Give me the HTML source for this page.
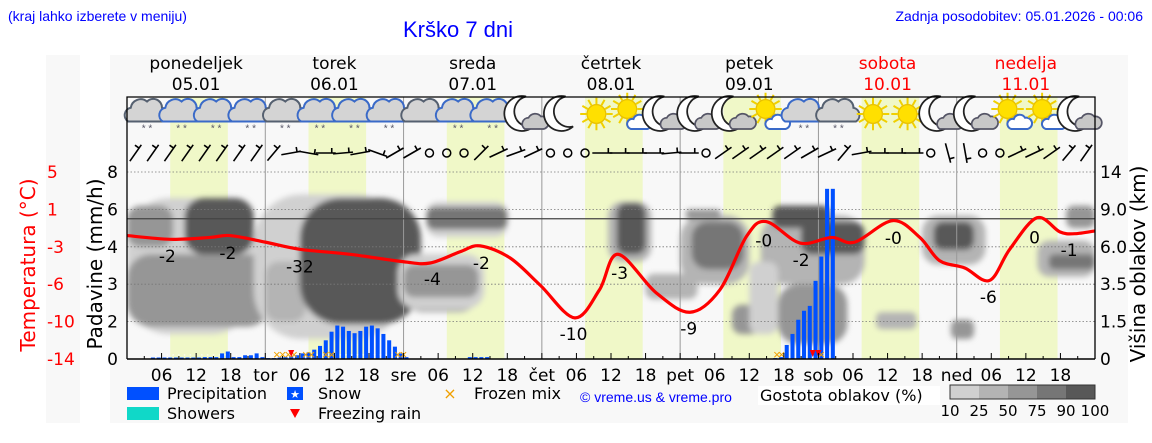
<!DOCTYPE html>
<html><head><meta charset="utf-8">
<style>
html,body{margin:0;padding:0;background:#fff;}
svg{display:block;font-family:"Liberation Sans","DejaVu Sans",sans-serif;}
.dv{font-family:"DejaVu Sans","Liberation Sans",sans-serif;}
</style></head>
<body>
<svg id="chart" width="1152" height="443" viewBox="0 0 1152 443" xmlns="http://www.w3.org/2000/svg">
<defs>
<filter id="blur" x="-20%" y="-20%" width="140%" height="140%"><feGaussianBlur stdDeviation="3"/></filter>
<clipPath id="plotclip"><rect x="127" y="172" width="968" height="187"/></clipPath>
</defs>
<text x="8" y="21" font-size="14" fill="#0000ff">(kraj lahko izberete v meniju)</text>
<text x="458" y="37" font-size="22" fill="#0000ff" text-anchor="middle">Krško 7 dni</text>
<text x="1143" y="21" font-size="14" fill="#0000ff" text-anchor="end">Zadnja posodobitev: 05.01.2026 - 00:06</text>
<rect x="46" y="55" width="34" height="368" fill="#f8f8f8"/>
<rect x="110" y="55" width="1018" height="368" fill="#f8f8f8"/>
<g id="days"></g>
<g id="bands"></g>
<g id="clouds" clip-path="url(#plotclip)" filter="url(#blur)"></g>
<g id="grid"></g>
<g id="icons"></g>
<g id="wind"></g>
<g id="precip"></g>
<g id="marks"></g>
<g id="temp"></g>
<g id="axes"></g>
<text class="dv" transform="translate(35,265) rotate(-90)" font-size="20" fill="#ff0000" text-anchor="middle">Temperatura (°C)</text>
<text class="dv" transform="translate(102,264) rotate(-90)" font-size="20" fill="#000" text-anchor="middle">Padavine (mm/h)</text>
<text class="dv" transform="translate(1145,264) rotate(-90)" font-size="20" fill="#000" text-anchor="middle">Višina oblakov (km)</text>
<g class="dv" font-size="16">
<rect x="127" y="387" width="32" height="13" fill="#0050ff"/>
<text x="167" y="399">Precipitation</text>
<rect x="127" y="407" width="32" height="13" fill="#10d8c8"/>
<text x="167" y="419">Showers</text>
<rect x="287" y="387" width="16" height="13" fill="#0050ff"/>
<text x="295" y="398" font-size="11" fill="#fff" text-anchor="middle">★</text>
<text x="318" y="399">Snow</text>
<path d="M290,409 L300,409 L295,418 Z" fill="#ff0000"/>
<text x="318" y="419">Freezing rain</text>
<text x="450" y="399" fill="#f0a000" font-size="16" text-anchor="middle">×</text>
<text x="474" y="399">Frozen mix</text>
</g>
<text x="580" y="402" font-size="14" fill="#0000ff">© vreme.us &amp; vreme.pro</text>
<rect x="758" y="386" width="182" height="19" fill="#fff"/>
<text class="dv" x="760" y="401" font-size="16">Gostota oblakov (%)</text>
<g id="colorbar"></g>
</svg>
<script>
const NS='http://www.w3.org/2000/svg';
// ---- data ----
const dayNames=['ponedeljek','torek','sreda','četrtek','petek','sobota','nedelja'];
const dayDates=['05.01','06.01','07.01','08.01','09.01','10.01','11.01'];
const dayAbbr=['pon','tor','sre','čet','pet','sob','ned'];
const precipTicks=[0,2,3,4,6,8];
const heightTicks=['0','1.5','3.5','6.0','9.0','14'];
const heightVals=[0,1.5,3.5,6,9,14];
const tempTicks=[5,1,-3,-6,-10,-14];
const tempHours=[0,7.5,14.4,17.9,24,30,38.7,48,52.6,57.8,61.3,66.5,71.7,77.7,82,85.2,91.8,97.7,102.9,107.5,110.9,116.8,122.3,126.3,132.9,137.6,141,145.4,149.7,153.2,157.9,161.9,164.5,168];
const tempVals=[-1.8,-2.2,-2.0,-1.8,-2.5,-3.2,-3.6,-4.2,-4.3,-3.4,-2.9,-3.9,-6.1,-9.6,-6.6,-3.6,-6.9,-9.0,-6.6,-1.9,-0.3,-2.6,-2.0,-2.5,-0.2,-2.0,-4.1,-4.7,-5.7,-3.2,0.1,-1.4,-1.6,-1.3];
const labelHours=[7,17.5,30,53,61.5,77.5,85.5,97.5,110.5,117,133,149.5,157.5,163.5];
const labelTexts=['-2','-2','-32','-4','-2','-10','-3','-9','-0','-2','-0','-6','0','-1'];
const precipHours=[4.5,5.5,6.5,7.5,8.5,9.5,10.5,11.5,12.5,13.5,14.5,15.5,16.5,17.5,18.5,19.5,20.5,21.5,22.5,23.5,24.5,25.5,26.5,27.5,28.5,29.5,30.5,31.5,32.5,33.5,34.5,35.5,36.5,37.5,38.5,39.5,40.5,41.5,42.5,43.5,44.5,45.5,46.5,47.5,48.5,59.5,60.5,61.5,62.5,112.5,113.5,114.5,115.5,116.5,117.5,118.5,119.5,120.5,121.5,122.5];
const precipVals=[0.08,0.08,0.08,0.08,0.08,0.08,0.08,0.08,0.08,0.1,0.1,0.1,0.3,0.4,0.1,0.1,0.2,0.2,0.3,0.1,0.05,0.05,0.08,0.1,0.15,0.2,0.3,0.35,0.5,0.7,1.0,1.46,1.79,1.73,1.5,1.38,1.5,1.73,1.79,1.64,1.34,1.0,0.66,0.3,0.1,0.1,0.1,0.1,0.1,0.05,0.1,0.75,1.34,2.05,2.29,2.42,3.09,3.74,7.1,7.1];
// cloud blobs: hour start, hour end, km top, km bottom, density level
const cloudH0=[0,0,0,10,20,22,24,30,48,52,52,47,48,83.5,85,90,96,98,97,105,110,108,113,112,117,130,138,140,143,158,160,163];
const cloudH1=[22,25,8,22,24,48,31,51,61,66,66,62,61,91,90,99,108,107,103,110,128,113,125,122,128,137,149,147,147,168,168,168];
const cloudTop=[10.5,5.5,9.5,10.5,5,11,5,10.5,5.5,10,9.3,5.5,4.8,10,9.8,4.2,8.5,8,9,2.4,8.5,5,3.5,9.5,8,2,8.5,8,1.6,6.5,5.5,9.5];
const cloudBot=[1.0,1.3,6,5.5,1.5,0.8,1.5,1.4,2,6.8,7.4,2.2,2.8,5,5.5,2.7,3.5,4.5,8.2,1.0,3.5,1,0.6,7.5,5.5,1.2,4.8,5.8,0.8,4,4.5,7.5];
const cloudLvl=[0,2,2,4,2,0,1,4,1,0,3,0,2,1,4,1,1,3,2,2,1,0,2,4,4,1,1,4,2,1,3,2];
const windAngles=[-55,-55,-55,-55,-55,-55,-55,-55,-50,-10,10,0,-5,-10,20,-30,-30,null,null,null,-45,-25,-20,-25,null,null,null,0,0,0,0,-5,0,null,-35,-35,-35,-35,-35,-30,-25,-50,-10,0,0,0,null,75,80,null,null,-25,-25,-35,-50,-55];
const iconTypes=['cs','cs','cs','cs','cs','cs','cs','cs','c','cs','cs','mc','m','s','sc','mc','mc','mc','sc','cs','cs','s','s','mc','mc','sc','sc','mc'];
const frozenHours=[26,27,28,29,31,32,34.5,35.5,47,48,112.8,113.6,120.5];
const freezeHours=[28.5,119,120];
const shades=['#d0d0d0','#b4b4b4','#969696','#767676','#585858'];
// ---- scales ----
const X0=127,X1=1095,Y0=359,Y1=172,G=(Y0-Y1)/5;
function xOf(h){return X0+h*(X1-X0)/168;}
function pw(v,ticks){
  const asc=ticks[0]<ticks[ticks.length-1];
  for(let i=0;i<ticks.length-1;i++){
    const a=ticks[i],b=ticks[i+1];
    const lo=Math.min(a,b),hi=Math.max(a,b);
    if((v>=lo&&v<=hi)||(i===ticks.length-2)||(i===0&&(asc?v<a:v>a))){
      return Y0-(i+(v-a)/(b-a))*G;
    }
  }
}
function yP(v){return pw(v,precipTicks);}
function yK(v){return pw(v,heightVals);}
function yT(v){return pw(v,tempTicks.slice().reverse());}
function mk(tag,attrs,parent){const e=document.createElementNS(NS,tag);for(const k in attrs)e.setAttribute(k,attrs[k]);parent.appendChild(e);return e;}
const $=id=>document.getElementById(id);
const dayW=(X1-X0)/7;
for(let d=0;d<7;d++){
  const cx=X0+dayW*(d+0.5);
  const col=d>=5?'#ff0000':'#000';
  let t=mk('text',{x:cx,y:69,'font-size':17,'text-anchor':'middle',fill:col,class:'dv'},$('days'));t.textContent=dayNames[d];
  
  
  t=mk('text',{x:cx,y:90,'font-size':17,'text-anchor':'middle',fill:col,class:'dv'},$('days'));t.textContent=dayDates[d];
  
  
  const b=mk('rect',{x:xOf(24*d+7.5),y:97,width:xOf(17.5)-xOf(7.5),height:Y0-97,fill:'#f0f8c8'},$('bands'));
  
  
}
for(let i=0;i<cloudH0.length;i++){
  const x=xOf(cloudH0[i]),w=xOf(cloudH1[i])-x,y=yK(cloudTop[i]),h=yK(cloudBot[i])-y;
  const r=mk('rect',{x:x,y:y,width:w,height:h,rx:Math.min(w,h)/3,fill:shades[cloudLvl[i]]},$('clouds'));
  
  
}
for(let i=1;i<6;i++){const y=Y0-i*G;mk('line',{x1:X0,x2:X1,y1:y,y2:y,stroke:'#777','stroke-dasharray':'1.5,2','stroke-width':0.8},$('grid'));}
for(let d=1;d<7;d++){const x=X0+d*dayW;mk('line',{x1:x,x2:x,y1:97,y2:Y0,stroke:'#999','stroke-width':1},$('grid'));}
const fz=yT(0);
const fl=mk('line',{x1:X0,x2:X1,y1:fz,y2:fz,stroke:'#444','stroke-width':1.2},$('grid'));


mk('path',{d:`M${X0},${Y0} V97 H${X1} V${Y0}`,fill:'none',stroke:'#000','stroke-width':1.3},$('axes'));
mk('line',{x1:X0,x2:X1,y1:Y0,y2:Y0,stroke:'#000','stroke-width':1.5},$('axes'));
function cloud(g,cx,cy,stroke){
  mk('path',{d:`M${cx-15},${cy+8} a6,6 0 0 1 2,-11 a8,8 0 0 1 13,-5 a7,7 0 0 1 12,5 a6,6 0 0 1 2,11 Z`,fill:'#d4d4d4',stroke:stroke,'stroke-width':1.6},g);
}
iconTypes.forEach((t,i)=>{
  const cx=X0+20+i*dayW/4,cy=114;
  const g=mk('g',{transform:`translate(${cx},${cy}) scale(1.25) translate(${-cx},${-cy})`},$('icons'));
  
  
  if(t==='s'||t==='sc'){
    const sx=t==='s'?cx:cx-3,sy=t==='s'?cy:cy-4;
    for(let k=0;k<12;k++){const a=k*Math.PI/6;mk('line',{x1:sx+Math.cos(a)*8,y1:sy+Math.sin(a)*8,x2:sx+Math.cos(a)*13,y2:sy+Math.sin(a)*13,stroke:'#f0d000','stroke-width':1.6},g);}
    mk('circle',{cx:sx,cy:sy,r:7.5,fill:'#ffe000',stroke:'#e8c000'},g);
    if(t==='sc')mk('path',{d:`M${cx},${cy+12} a4,4 0 0 1 2,-8 a5,5 0 0 1 9,-1 a4,4 0 0 1 2,9 Z`,fill:'#fff',stroke:'#3a6ac8','stroke-width':1.6},g);
  } else if(t==='m'||t==='mc'){
    const mx=t==='m'?cx:cx-4;
    mk('path',{d:`M${mx+3},${cy-14} a14,14 0 1 0 6,24 a11,11 0 0 1 -6,-24 Z`,fill:'#fff',stroke:'#222','stroke-width':1.4},g);
    if(t==='mc')mk('path',{d:`M${cx-2},${cy+12} a5,5 0 0 1 3,-9 a6,6 0 0 1 10,-1 a5,5 0 0 1 2,10 Z`,fill:'#c8c8c8',stroke:'#556','stroke-width':1.4},g);
  } else {
    cloud(g,cx,cy-2,i%4===0||t==='c'?'#556070':'#3a6ac8');
    if(t==='cs'){const s=mk('text',{x:cx,y:cy+14,'font-size':8,fill:'#556','text-anchor':'middle'},g);s.textContent='* *';}
  }
});
windAngles.forEach((a,i)=>{
  const cx=X0+8.6+i*dayW/8,cy=153;
  const g=mk('g',{},$('wind'));
  
  
  if(a===null){mk('circle',{cx:cx,cy:cy,r:4,fill:'none',stroke:'#000','stroke-width':1.5},g);return;}
  const r=a*Math.PI/180,L=10,dx=Math.cos(r)*L,dy=Math.sin(r)*L;
  mk('line',{x1:cx-dx,y1:cy-dy,x2:cx+dx,y2:cy+dy,stroke:'#000','stroke-width':1.6},g);
  const px=cx+dx*0.6,py=cy+dy*0.6;
  mk('line',{x1:px,y1:py,x2:px+Math.sin(r)*5,y2:py-Math.cos(r)*5,stroke:'#000','stroke-width':1.6},g);
});
const bw=(X1-X0)/168*0.7;
precipHours.forEach((h,i)=>{
  const y=yP(precipVals[i]);
  const r=mk('rect',{x:xOf(h)-bw/2,y:y,width:bw,height:Y0-y,fill:'#0050ff'},$('precip'));
  
  
});
for(let h=5;h<=48;h+=1){mk('text',{x:xOf(h),y:358,'font-size':5,fill:'#fff','text-anchor':'middle'},$('marks')).textContent='*';}
frozenHours.forEach(h=>{const t=mk('text',{x:xOf(h),y:359,'font-size':13,fill:'#f0a000','text-anchor':'middle'},$('marks'));t.textContent='×';
  
  });
freezeHours.forEach(h=>{const x=xOf(h);const p=mk('path',{d:`M${x-3},350 L${x+3},350 L${x},357 Z`,fill:'#ff0000'},$('marks'));
  
  });
const pts=tempHours.map((h,i)=>[xOf(h),yT(tempVals[i])]);
let d=`M${pts[0][0]},${pts[0][1]}`;
for(let i=0;i<pts.length-1;i++){
  const p0=pts[i-1]||pts[i],p1=pts[i],p2=pts[i+1],p3=pts[i+2]||p2;
  d+=` C${p1[0]+(p2[0]-p0[0])/6},${p1[1]+(p2[1]-p0[1])/6} ${p2[0]-(p3[0]-p1[0])/6},${p2[1]-(p3[1]-p1[1])/6} ${p2[0]},${p2[1]}`;
}
const tl=mk('path',{d:d,fill:'none',stroke:'#ff0000','stroke-width':3.2,'stroke-linejoin':'round'},$('temp'));


function tempAt(h){for(let i=0;i<tempHours.length-1;i++){if(h<=tempHours[i+1]){const f=(h-tempHours[i])/(tempHours[i+1]-tempHours[i]);return tempVals[i]+f*(tempVals[i+1]-tempVals[i]);}}return tempVals[tempVals.length-1];}
labelHours.forEach((h,i)=>{
  const t=mk('text',{x:xOf(h),y:yT(tempAt(h))+23,'font-size':17,'text-anchor':'middle',fill:'#000',class:'dv'},$('temp'));
  t.textContent=labelTexts[i];
  
  
});
const ax=$('axes');
for(let i=0;i<6;i++){
  const y=Y0-i*G;
  let t=mk('text',{x:118,y:y+6,'font-size':17,'text-anchor':'end',class:'dv'},ax);t.textContent=precipTicks[i];
  
  
  t=mk('text',{x:1100,y:y+6,'font-size':17,'text-anchor':'start',class:'dv'},ax);t.textContent=heightTicks[i];
  
  
  t=mk('text',{x:47,y:Y1+i*G+6,'font-size':17,fill:'#ff0000','text-anchor':'start',class:'dv'},ax);t.textContent=tempTicks[i];
  
  
}
for(let h=0;h<168;h+=3){const x=xOf(h);mk('line',{x1:x,x2:x,y1:Y0,y2:Y0-(h%6===0?6:3),stroke:'#000','stroke-width':1},ax);}
for(let d=0;d<7;d++){
  [6,12,18].forEach(hh=>{const t=mk('text',{x:xOf(24*d+hh),y:381,'font-size':17,'text-anchor':'middle',class:'dv'},ax);t.textContent=String(hh).padStart(2,'0');
    
    });
  if(d>0){const t=mk('text',{x:xOf(24*d),y:381,'font-size':17,'text-anchor':'middle',class:'dv'},ax);t.textContent=dayAbbr[d];
    
    }
}
const cbLabels=['10','25','50','75','90','100'];
for(let i=0;i<5;i++){mk('rect',{x:950+i*29,y:385,width:29,height:14,fill:shades[i]},$('colorbar'));}
mk('rect',{x:950,y:385,width:145,height:14,fill:'none',stroke:'#333'},$('colorbar'));
cbLabels.forEach((l,i)=>{const t=mk('text',{x:950+i*29,y:416,'font-size':15,'text-anchor':'middle',class:'dv'},$('colorbar'));t.textContent=l;
  
  });
</script>
</body></html>
